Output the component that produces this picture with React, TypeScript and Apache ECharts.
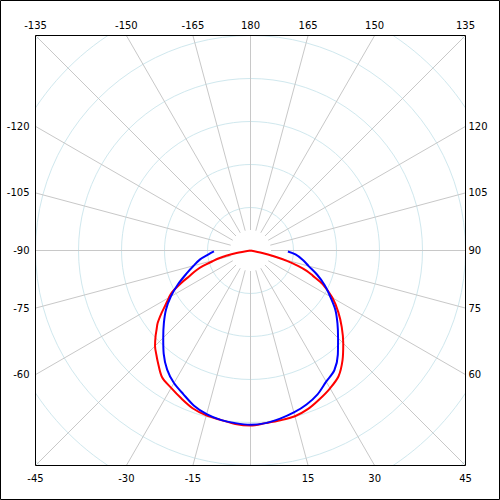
import React, { useEffect, useRef } from "react";
import * as echarts from "echarts";

// Angle (degrees, 0 = down, increasing counter-clockwise) and radius (ring units, 10 per ring)
const blueAngles = [-88.5, -85, -80, -75, -70, -65, -60, -55, -50, -45, -40, -35, -30, -25, -20, -15, -10, -5, 0, 5, 10, 15, 20, 25, 30, 35, 40, 45, 50, 55, 60, 65, 70, 75, 80, 85, 88.5];
const blueRadius = [8.5, 9.7, 11.9, 13.7, 15.9, 18.6, 21.4, 24.0, 26.3, 28.7, 31.4, 33.8, 35.6, 36.9, 38.4, 39.4, 40.0, 40.3, 40.5, 40.3, 39.7, 39.0, 38.1, 36.9, 35.2, 34.0, 31.6, 28.8, 26.4, 24.1, 21.4, 19.0, 16.5, 14.0, 12.3, 10.5, 8.7];

const redAngles = [-90, -80, -78, -76, -74, -72, -70, -67, -65, -62, -60, -57, -55, -52, -50, -48, -45, -42, -40, -35, -30, -25, -20, -15, -10, -5, 0, 5, 10, 15, 20, 25, 30, 35, 40, 45, 50, 55, 60, 65, 68, 70, 72, 74, 76, 78, 90];
const redRadius = [0, 3.3, 5.8, 7.7, 9.3, 11.6, 13.4, 15.6, 17.7, 20.7, 21.9, 23.7, 25.2, 27.4, 28.5, 29.7, 31.4, 32.7, 33.6, 35.9, 36.9, 38.0, 39.1, 39.7, 40.0, 40.5, 40.7, 40.3, 40.1, 39.9, 39.2, 38.1, 37.0, 35.7, 33.3, 30.5, 27.7, 24.9, 22.0, 18.5, 15.6, 14.0, 11.6, 8.8, 5.6, 2.8, 0];

const topLabels = [-135, -150, -165, 180, 165, 150, 135];
const bottomLabels = [-45, -30, -15, 15, 30, 45];
const leftLabels = [-120, -105, -90, -75, -60];
const rightLabels = [120, 105, 90, 75, 60];

const C = 250.5;
const HALF = 215;
const OUTER = 305;
const RING_PX = 43;

export default function App() {
  const ref = useRef<HTMLDivElement>(null);
  useEffect(() => {
    if (!ref.current) return;
    const chart = echarts.init(ref.current, null, { renderer: "svg" });
    const rad = (d: number) => (d * Math.PI) / 180;
    const font = '10px "DejaVu Sans"';
    const txt = (text: string, x: number, y: number, align: string) => ({
      type: "text",
      x,
      y,
      z: 102,
      silent: true,
      style: {
        text,
        fill: "#000",
        font,
        align,
        verticalAlign: "middle",
        textAlign: align,
        textVerticalAlign: "middle",
      },
    });
    const labels: any[] = [];
    topLabels.forEach((a) => labels.push(txt(String(a), C - HALF * Math.tan(rad(a)), 25.5, "center")));
    bottomLabels.forEach((a) => labels.push(txt(String(a), C + HALF * Math.tan(rad(a)), 478.5, "center")));
    leftLabels.forEach((a) => labels.push(txt(String(a), 29.5, C - HALF / Math.tan(rad(a)), "right")));
    rightLabels.forEach((a) => labels.push(txt(String(a), 468.5, C + HALF / Math.tan(rad(a)), "left")));

    const mask = (x: number, y: number, w: number, h: number) => ({
      type: "rect",
      z: 100,
      silent: true,
      shape: { x, y, width: w, height: h },
      style: { fill: "#fff", stroke: null },
    });

    const maxR = OUTER / (RING_PX / 10);

    chart.setOption({
      animation: false,
      backgroundColor: "#fff",
      polar: [
        { center: [C, C], radius: [20.5, OUTER] },
        { center: [C, C], radius: [0, OUTER] },
      ],
      angleAxis: [
        {
          polarIndex: 0,
          type: "value",
          min: -180,
          max: 180,
          interval: 15,
          startAngle: 90,
          clockwise: false,
          axisLine: { show: false },
          axisTick: { show: false },
          axisLabel: { show: false },
          splitLine: { show: true, lineStyle: { color: "#c8c8c8", width: 1 } },
        },
        {
          polarIndex: 1,
          type: "value",
          min: -180,
          max: 180,
          interval: 15,
          startAngle: 90,
          clockwise: false,
          axisLine: { show: false },
          axisTick: { show: false },
          axisLabel: { show: false },
          splitLine: { show: false },
        },
      ],
      radiusAxis: [
        {
          polarIndex: 0,
          type: "value",
          min: 0,
          max: 1,
          show: false,
          splitLine: { show: false },
        },
        {
          polarIndex: 1,
          type: "value",
          min: 0,
          max: maxR,
          interval: 10,
          axisLine: { show: false },
          axisTick: { show: false },
          axisLabel: { show: false },
          splitLine: { show: true, lineStyle: { color: "#d0e8ee", width: 1 } },
        },
      ],
      series: [
        {
          type: "line",
          coordinateSystem: "polar",
          polarIndex: 1,
          showSymbol: false,
          symbol: "none",
          smooth: 0.3,
          lineStyle: { color: "#ff0000", width: 2 },
          data: redAngles.map((a, i) => [redRadius[i], a]),
          z: 3,
        },
        {
          type: "line",
          coordinateSystem: "polar",
          polarIndex: 1,
          showSymbol: false,
          symbol: "none",
          smooth: 0.3,
          lineStyle: { color: "#0000ff", width: 2 },
          data: blueAngles.map((a, i) => [blueRadius[i], a]),
          z: 4,
        },
      ],
      graphic: [
        mask(0, 0, 500, 35),
        mask(0, 466, 500, 34),
        mask(0, 35, 35, 431),
        mask(466, 35, 34, 431),
        {
          type: "rect",
          z: 101,
          silent: true,
          shape: { x: 35.5, y: 35.5, width: 430, height: 430 },
          style: { fill: null, stroke: "#000", lineWidth: 1 },
        },
        {
          type: "rect",
          z: 101,
          silent: true,
          shape: { x: 0.5, y: 0.5, width: 499, height: 499 },
          style: { fill: null, stroke: "#000", lineWidth: 1 },
        },
        ...labels,
      ],
    });
    return () => chart.dispose();
  }, []);
  return (
    <div
      ref={ref}
      style={{ position: "fixed", left: 0, top: 0, width: 500, height: 500, background: "#fff" }}
    />
  );
}
